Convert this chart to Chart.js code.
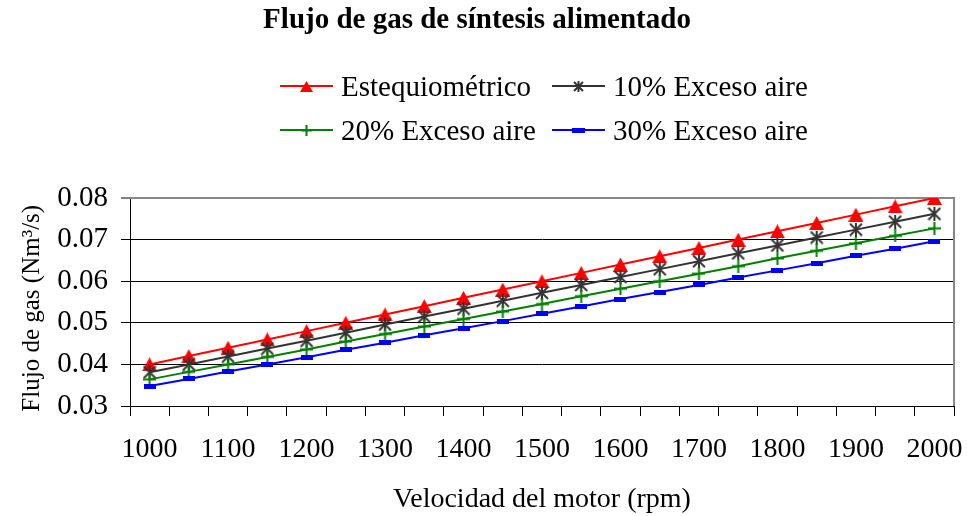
<!DOCTYPE html>
<html>
<head>
<meta charset="utf-8">
<script src="https://cdn.jsdelivr.net/npm/chart.js@4/dist/chart.umd.min.js"></script>
<style>
  html, body { margin: 0; padding: 0; background: #ffffff; }
  #c { display: block; }
</style>
</head>
<body>
<canvas id="c" width="967" height="516"></canvas>
<script>
// ---- Data ----
const categories = ['1000','1050','1100','1150','1200','1250','1300','1350','1400','1450','1500',
                    '1550','1600','1650','1700','1750','1800','1850','1900','1950','2000'];
const estequiometrico = [0.0400,0.0420,0.0440,0.0460,0.0480,0.0500,0.0520,0.0540,0.0560,0.0580,0.0600,
                         0.0620,0.0640,0.0660,0.0680,0.0700,0.0720,0.0740,0.0760,0.0780,0.0800];
const exceso10 = [0.0381,0.0400,0.0419,0.0438,0.0457,0.0476,0.0496,0.0515,0.0534,0.0553,0.0572,
                  0.0591,0.0610,0.0629,0.0648,0.0667,0.0686,0.0705,0.0724,0.0743,0.0762];
const exceso20 = [0.0364,0.0382,0.0400,0.0418,0.0436,0.0455,0.0473,0.0491,0.0509,0.0527,0.0545,
                  0.0564,0.0582,0.0600,0.0618,0.0636,0.0655,0.0673,0.0691,0.0709,0.0727];
const exceso30 = [0.0348,0.0365,0.0383,0.0400,0.0417,0.0435,0.0452,0.0470,0.0487,0.0504,0.0522,
                  0.0539,0.0557,0.0574,0.0591,0.0609,0.0626,0.0643,0.0661,0.0678,0.0696];
const seriesNames = ['Estequiométrico', '10% Exceso aire', '20% Exceso aire', '30% Exceso aire'];
const xTickLabels = ['1000','1100','1200','1300','1400','1500','1600','1700','1800','1900','2000'];
const yTickLabels = ['0.03','0.04','0.05','0.06','0.07','0.08'];

const FONT = '"Liberation Serif", "Times New Roman", serif';

function marker(kind, color, w, h, lw) {
  const c = document.createElement('canvas');
  c.width = w; c.height = h;
  const g = c.getContext('2d');
  g.fillStyle = color; g.strokeStyle = color; g.lineWidth = lw || 2;
  g.beginPath();
  if (kind === 'triangle') {
    g.moveTo(w / 2, 0); g.lineTo(w, h); g.lineTo(0, h); g.closePath(); g.fill();
  } else if (kind === 'star') {
    g.moveTo(1, 1); g.lineTo(w - 1, h - 1);
    g.moveTo(w - 1, 1); g.lineTo(1, h - 1);
    g.moveTo(w / 2, 0); g.lineTo(w / 2, h);
    g.stroke();
  } else if (kind === 'plus') {
    g.moveTo(w / 2, 0); g.lineTo(w / 2, h);
    g.moveTo(0, h / 2); g.lineTo(w, h / 2);
    g.stroke();
  } else if (kind === 'dash') {
    g.fillRect(0, 0, w, h);
  }
  return c;
}

const styles = [
  { color: '#ff0000', kind: 'triangle', pt: [15, 14], lg: [13, 11] },
  { color: '#333333', kind: 'star',     pt: [14, 14], lg: [11, 11] },
  { color: '#008000', kind: 'plus',     pt: [13, 13], lg: [11, 11] },
  { color: '#0000ff', kind: 'dash',     pt: [12, 5],  lg: [13, 5] }
];
const seriesValues = [estequiometrico, exceso10, exceso20, exceso30];

const datasets = seriesValues.map((vals, i) => ({
  label: seriesNames[i],
  data: vals,
  borderColor: styles[i].color,
  backgroundColor: styles[i].color,
  borderWidth: 2,
  pointStyle: marker(styles[i].kind, styles[i].color, styles[i].pt[0], styles[i].pt[1], 2),
  pointRadius: 6,
  tension: 0,
  order: 4 - i
}));
const legendMarkers = styles.map(s => marker(s.kind, s.color, s.lg[0], s.lg[1], 2));

const legendPlugin = {
  id: 'excelLegend',
  afterDraw(chart) {
    const ctx = chart.ctx;
    const cols = [280, 552];
    const rows = [86, 130];
    const lineLen = 53;
    ctx.save();
    ctx.font = '29px ' + FONT;
    ctx.textBaseline = 'middle';
    ctx.textAlign = 'left';
    chart.data.datasets.forEach((ds, i) => {
      const x = cols[i % 2], y = rows[Math.floor(i / 2)];
      ctx.strokeStyle = ds.borderColor;
      ctx.lineWidth = 2;
      ctx.beginPath(); ctx.moveTo(x, y); ctx.lineTo(x + lineLen, y); ctx.stroke();
      const m = legendMarkers[i];
      ctx.drawImage(m, Math.round(x + lineLen / 2 - m.width / 2), Math.round(y - m.height / 2));
      ctx.fillStyle = '#000';
      ctx.fillText(ds.label, x + lineLen + 8, y + 2);
    });
    ctx.restore();
  }
};

const borderPlugin = {
  id: 'plotBorder',
  beforeDatasetsDraw(chart) {
    const { ctx, chartArea: a } = chart;
    ctx.save();
    ctx.strokeStyle = '#888888';
    ctx.lineWidth = 2;
    ctx.beginPath();
    ctx.moveTo(a.left, a.top); ctx.lineTo(a.right, a.top); ctx.lineTo(a.right, a.bottom);
    ctx.stroke();
    ctx.restore();
  }
};

new Chart(document.getElementById('c'), {
  type: 'line',
  data: { labels: categories, datasets },
  plugins: [legendPlugin, borderPlugin],
  options: {
    responsive: false,
    animation: false,
    devicePixelRatio: 1,
    layout: { padding: { left: 0, right: 13, top: 0, bottom: 0 } },
    plugins: {
      legend: { display: false },
      tooltip: { enabled: false },
      title: {
        display: true,
        text: 'Flujo de gas de síntesis alimentado',
        color: '#000',
        font: { family: FONT, size: 29, weight: 'bold' },
        padding: { top: 3, bottom: 160.2 }
      }
    },
    scales: {
      x: {
        type: 'category',
        offset: true,
        grid: { display: true, offset: true, drawOnChartArea: false, drawTicks: true,
                tickLength: 10, tickColor: '#000', tickWidth: 1 },
        border: { display: true, color: '#000', width: 1 },
        ticks: {
          autoSkip: false, maxRotation: 0, minRotation: 0, padding: 0, color: '#000',
          font: { family: FONT, size: 28, lineHeight: 2.4 },
          callback: function (v, i) {
            const lab = this.getLabelForValue(v);
            return xTickLabels.includes(lab) ? lab : '';
          }
        },
        title: {
          display: true, text: 'Velocidad del motor (rpm)', color: '#000',
          font: { family: FONT, size: 28 }, padding: { top: 0, bottom: 0 }
        },
        afterFit(scale) { scale.height = 110; }
      },
      y: {
        min: 0.03, max: 0.08,
        ticks: {
          stepSize: 0.01, padding: 13, color: '#000',
          font: { family: FONT, size: 29 },
          callback: (v, i) => yTickLabels[i]
        },
        grid: {
          color: c => (c.tick && Math.abs(c.tick.value - 0.08) < 1e-9) ? '#888888' : '#000000',
          lineWidth: c => (c.tick && Math.abs(c.tick.value - 0.08) < 1e-9) ? 2 : 1,
          tickLength: 9, tickColor: '#000', tickWidth: 1
        },
        border: { display: true, color: '#000', width: 1 },
        title: {
          display: true, text: 'Flujo de gas (Nm³/s)  ', color: '#000',
          font: { family: FONT, size: 25 }, padding: { top: 17, bottom: 0 }
        },
        afterFit(scale) { scale.width = 130; }
      }
    }
  }
});
</script>
</body>
</html>
